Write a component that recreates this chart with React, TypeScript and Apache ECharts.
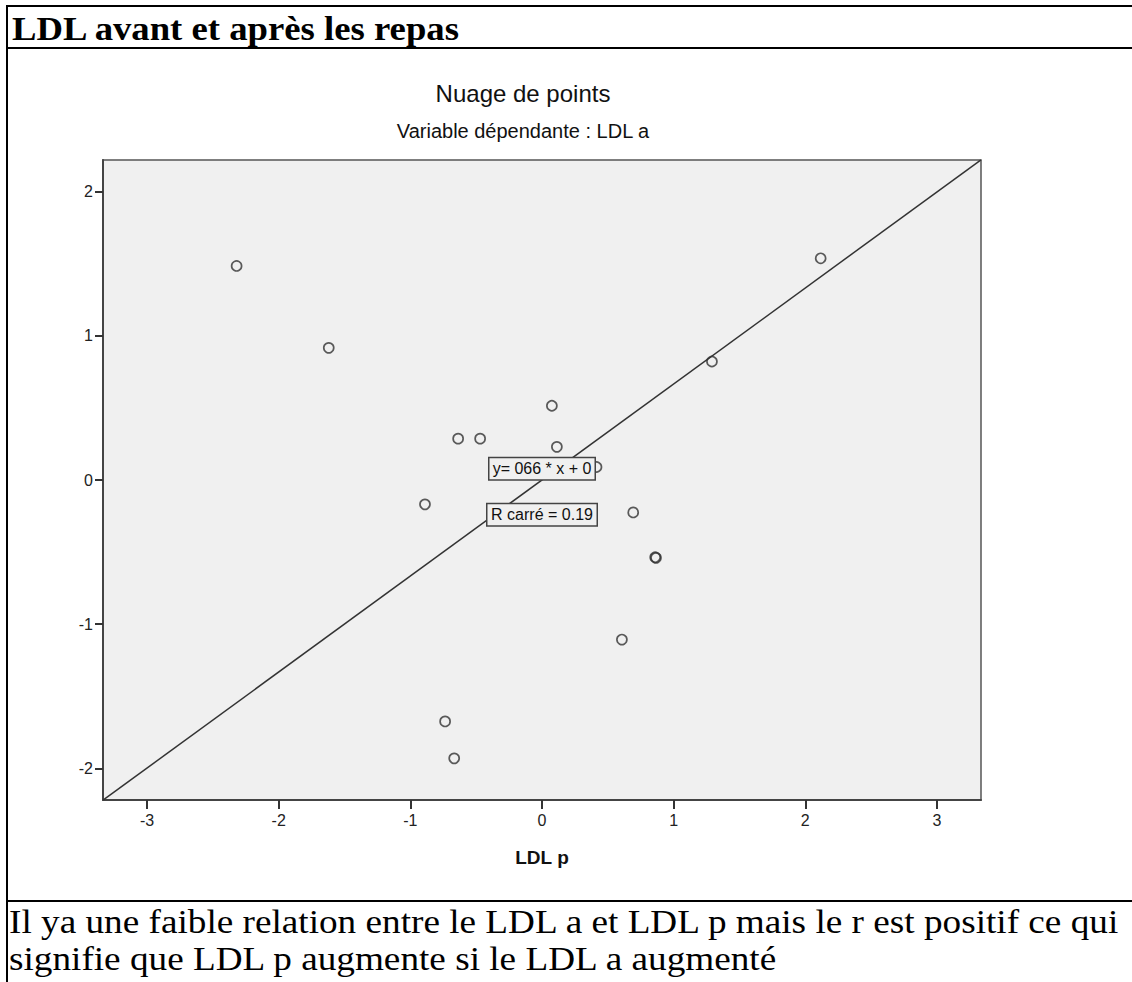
import { useEffect, useRef } from "react";
import * as echarts from "echarts";

// Standardised LDL values (p = x axis, a = y axis)
const ldlP = [-2.32, -1.62, 0.075, -0.637, -0.47, 0.113, 0.414, -0.889, 0.693, 0.86, 0.866, 0.607, -0.736, -0.667, 2.117, 1.291];
const ldlA = [1.485, 0.917, 0.515, 0.287, 0.287, 0.23, 0.09, -0.169, -0.225, -0.536, -0.54, -1.107, -1.675, -1.931, 1.538, 0.822];

const xTicks = [-3, -2, -1, 0, 1, 2, 3];
const yTicks = [-2, -1, 0, 1, 2];
const xRange = [-3.335, 3.335];
const yRange = [-2.22, 2.22];

// Fit line: y = slope * x + intercept
const slope = 0.666;
const intercept = 0;
const fitLabel = "y= 066 * x + 0";
const r2Label = "R carré = 0.19";
const fitLabelAt = [0, 0.078];
const r2LabelAt = [0, -0.241];

const heading = "LDL avant et après les repas";
const chartTitle = "Nuage de points";
const chartSubtitle = "Variable dépendante : LDL a";
const xName = "LDL p";
const comment1 = "Il ya une faible relation entre le LDL a et LDL p mais le r est positif ce qui";
const comment2 = "signifie que LDL p augmente si le LDL a augmenté";

const SANS = "'Liberation Sans', Arial, sans-serif";
const SERIF = "'Liberation Serif', 'DejaVu Serif', serif";

export default function App() {
  const ref = useRef<HTMLDivElement>(null);

  useEffect(() => {
    if (!ref.current) return;
    const chart = echarts.init(ref.current, null, { renderer: "svg" });
    const points = ldlP.map((x, i) => [x, ldlA[i]]);
    const fit = xRange.map((x) => [x, slope * x + intercept]);
    const axisText = { color: "#222", fontSize: 16, fontFamily: SANS };
    const boxLabel = {
      show: true,
      position: "inside",
      color: "#111",
      fontSize: 16,
      fontFamily: SANS,
      backgroundColor: "#f0f0f0",
      borderColor: "#444",
      borderWidth: 1.5,
      padding: [3, 0, 2, 0],
      align: "center",
    };

    chart.setOption({
      animation: false,
      backgroundColor: "#fff",
      grid: {
        left: 103,
        top: 160,
        width: 878,
        height: 640,
        show: true,
        backgroundColor: "#f0f0f0",
        borderColor: "#555",
        borderWidth: 1.5,
      },
      xAxis: {
        type: "value",
        min: xRange[0],
        max: xRange[1],
        splitLine: { show: false },
        axisLine: { onZero: false, lineStyle: { color: "#444", width: 2 } },
        axisTick: { show: true, customValues: xTicks, length: 9, lineStyle: { color: "#333", width: 2 } },
        axisLabel: { customValues: xTicks, margin: 12, ...axisText },
      },
      yAxis: {
        type: "value",
        min: yRange[0],
        max: yRange[1],
        splitLine: { show: false },
        axisLine: { onZero: false, lineStyle: { color: "#444", width: 2 } },
        axisTick: { show: true, customValues: yTicks, length: 8, lineStyle: { color: "#333", width: 2 } },
        axisLabel: { customValues: yTicks, margin: 10, ...axisText },
      },
      series: [
        {
          type: "line",
          data: fit,
          symbol: "none",
          lineStyle: { color: "#333", width: 1.5 },
          z: 2,
          markPoint: {
            symbol: "circle",
            symbolSize: 1,
            itemStyle: { color: "rgba(0,0,0,0)" },
            data: [
              { coord: fitLabelAt, label: { ...boxLabel, width: 105, formatter: fitLabel } },
              { coord: r2LabelAt, label: { ...boxLabel, width: 109, formatter: r2Label } },
            ],
          },
        },
        {
          type: "scatter",
          data: points,
          symbol: "circle",
          symbolSize: 10,
          itemStyle: { color: "rgba(0,0,0,0)", borderColor: "#333", borderWidth: 1.7 },
          z: 3,
        },
      ],
      graphic: [
        { type: "line", shape: { x1: 6, y1: 6, x2: 1132, y2: 6 }, style: { stroke: "#000", lineWidth: 2 } },
        { type: "line", shape: { x1: 7, y1: 5, x2: 7, y2: 982 }, style: { stroke: "#000", lineWidth: 2 } },
        { type: "line", shape: { x1: 6, y1: 48, x2: 1132, y2: 48 }, style: { stroke: "#000", lineWidth: 2 } },
        { type: "line", shape: { x1: 6, y1: 901, x2: 1132, y2: 901 }, style: { stroke: "#000", lineWidth: 2 } },
        {
          type: "text",
          x: 12,
          y: 28,
          scaleX: 1.08,
          style: { text: heading, font: `bold 34px ${SERIF}`, fill: "#000", textVerticalAlign: "middle" },
        },
        {
          type: "text",
          x: 523,
          y: 93,
          style: { text: chartTitle, font: `24px ${SANS}`, fill: "#111", textAlign: "center", textVerticalAlign: "middle" },
        },
        {
          type: "text",
          x: 523,
          y: 131,
          style: { text: chartSubtitle, font: `20px ${SANS}`, fill: "#111", textAlign: "center", textVerticalAlign: "middle" },
        },
        {
          type: "text",
          x: 542,
          y: 857,
          style: { text: xName, font: `bold 19px ${SANS}`, fill: "#111", textAlign: "center", textVerticalAlign: "middle" },
        },
        {
          type: "text",
          x: 9,
          y: 922,
          scaleX: 1.095,
          style: { text: comment1, font: `34px ${SERIF}`, fill: "#000", textVerticalAlign: "middle" },
        },
        {
          type: "text",
          x: 9,
          y: 959,
          scaleX: 1.095,
          style: { text: comment2, font: `34px ${SERIF}`, fill: "#000", textVerticalAlign: "middle" },
        },
      ],
    });

    return () => chart.dispose();
  }, []);

  return (
    <div
      ref={ref}
      style={{ position: "absolute", left: 0, top: 0, width: 1132, height: 982, background: "#fff" }}
    />
  );
}
